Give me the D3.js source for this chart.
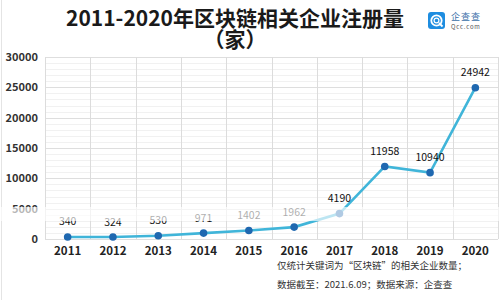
<!DOCTYPE html>
<html>
<head>
<meta charset="utf-8">
<script src="https://cdn.jsdelivr.net/npm/d3@7"></script>
<style>
  body { margin: 0; background: #fff; }
  text { font-family: "Noto Sans CJK SC", "Noto Sans", sans-serif; }
</style>
</head>
<body>
<div id="chart"></div>
<script>
var years = ["2011", "2012", "2013", "2014", "2015", "2016", "2017", "2018", "2019", "2020"];
var counts = [340, 324, 530, 971, 1402, 1962, 4190, 11958, 10940, 24942];
var y_ticks = [0, 5000, 10000, 15000, 20000, 25000, 30000];
var minor_ticks = d3.range(0, 30001, 1000);
var title_lines = ["2011-2020年区块链相关企业注册量", "（家）"];
var note_lines = ["仅统计关键词为\u201c区块链\u201d的相关企业数量；", "数据截至：2021.6.09；数据来源：企查查"];

var W = 500, H = 300;
var margin = {top: 57, bottom: 61, left: 45, right: 2};

var svg = d3.select("#chart").append("svg")
  .attr("width", W).attr("height", H);

var x = d3.scaleBand().domain(years).range([margin.left, W - margin.right]);
var y = d3.scaleLinear().domain([0, 30000]).range([H - margin.bottom, margin.top]);

// left frame line
svg.append("line").attr("x1", 1.5).attr("x2", 1.5).attr("y1", 0).attr("y2", H)
  .attr("stroke", "#e4e4e4");

// minor gridlines
svg.append("g").selectAll("line").data(minor_ticks).enter().append("line")
  .attr("x1", margin.left).attr("x2", W - margin.right)
  .attr("y1", d => Math.round(y(d)) + 0.5).attr("y2", d => Math.round(y(d)) + 0.5)
  .attr("stroke", "#f1f1f1");

// major gridlines
svg.append("g").selectAll("line").data(y_ticks).enter().append("line")
  .attr("x1", margin.left).attr("x2", W - margin.right)
  .attr("y1", d => Math.round(y(d)) + 0.5).attr("y2", d => Math.round(y(d)) + 0.5)
  .attr("stroke", "#dedede");

// vertical gridlines at band edges
var edges = years.map(d => x(d)).concat([x(years[years.length - 1]) + x.bandwidth()]);
svg.append("g").selectAll("line").data(edges).enter().append("line")
  .attr("x1", d => Math.round(d) + 0.5).attr("x2", d => Math.round(d) + 0.5)
  .attr("y1", margin.top).attr("y2", H - margin.bottom)
  .attr("stroke", "#dcdcdc");

// y axis labels
svg.append("g").selectAll("text").data(y_ticks).enter().append("text")
  .attr("x", 38).attr("y", d => y(d)).attr("dy", "0.35em")
  .attr("text-anchor", "end")
  .style("font-size", "11px").style("font-weight", "bold").style("fill", "#333")
  .text(d => d);

// x axis labels
svg.append("g").selectAll("text").data(years).enter().append("text")
  .attr("x", d => x(d) + x.bandwidth() / 2).attr("y", 255)
  .attr("text-anchor", "middle")
  .style("font-size", "11.5px").style("font-weight", "bold").style("fill", "#222")
  .text(d => d);

var pts = years.map((d, i) => ({year: d, value: counts[i]}));

// line
var line = d3.line().x(d => x(d.year) + x.bandwidth() / 2).y(d => y(d.value));
svg.append("path").datum(pts)
  .attr("d", line)
  .attr("fill", "none").attr("stroke", "#40b5d9").attr("stroke-width", 2.6);

// points
svg.append("g").selectAll("circle").data(pts).enter().append("circle")
  .attr("cx", d => x(d.year) + x.bandwidth() / 2).attr("cy", d => y(d.value))
  .attr("r", 3.8).attr("fill", "#1f68b0");

// data labels
svg.append("g").selectAll("text").data(pts).enter().append("text")
  .attr("x", d => x(d.year) + x.bandwidth() / 2).attr("y", d => y(d.value) - 11.5)
  .attr("text-anchor", "middle")
  .style("font-size", "10.5px").style("fill", "#111")
  .text(d => d.value);

// faded band (scan artifact in the source picture)
svg.append("rect").attr("x", 0).attr("y", 207).attr("width", W).attr("height", 14)
  .attr("fill", "#fff").attr("opacity", 0.65);

// title
svg.append("g").selectAll("text").data(title_lines).enter().append("text")
  .attr("x", 235).attr("y", (d, i) => 26 + i * 21)
  .attr("text-anchor", "middle")
  .style("font-size", "21px").style("font-weight", "bold").style("fill", "#1a1a1a")
  .text(d => d);

// logo
var logo = svg.append("g").attr("transform", "translate(428,12)");
logo.append("rect").attr("width", 17).attr("height", 17).attr("rx", 3).attr("fill", "#1e8de0");
logo.append("circle").attr("cx", 8.5).attr("cy", 8.5).attr("r", 5.2)
  .attr("fill", "none").attr("stroke", "#fff").attr("stroke-width", 1.8);
logo.append("circle").attr("cx", 8.5).attr("cy", 8.5).attr("r", 2.4)
  .attr("fill", "none").attr("stroke", "#fff").attr("stroke-width", 1.2);
logo.append("line").attr("x1", 11).attr("y1", 11).attr("x2", 14.5).attr("y2", 14.5)
  .attr("stroke", "#fff").attr("stroke-width", 1.8);
logo.append("text").attr("x", 23).attr("y", 8)
  .style("font-size", "9px").style("fill", "#3a6fa8").style("letter-spacing", "1px")
  .text("企查查");
logo.append("text").attr("x", 23).attr("y", 16.5)
  .style("font-size", "6px").style("fill", "#555").style("letter-spacing", "0.8px")
  .text("Qcc.com");

// note
svg.append("g").selectAll("text").data(note_lines).enter().append("text")
  .attr("x", 277).attr("y", (d, i) => 269 + i * 19)
  .style("font-size", "9.5px").style("fill", "#333")
  .text(d => d);
</script>
</body>
</html>
